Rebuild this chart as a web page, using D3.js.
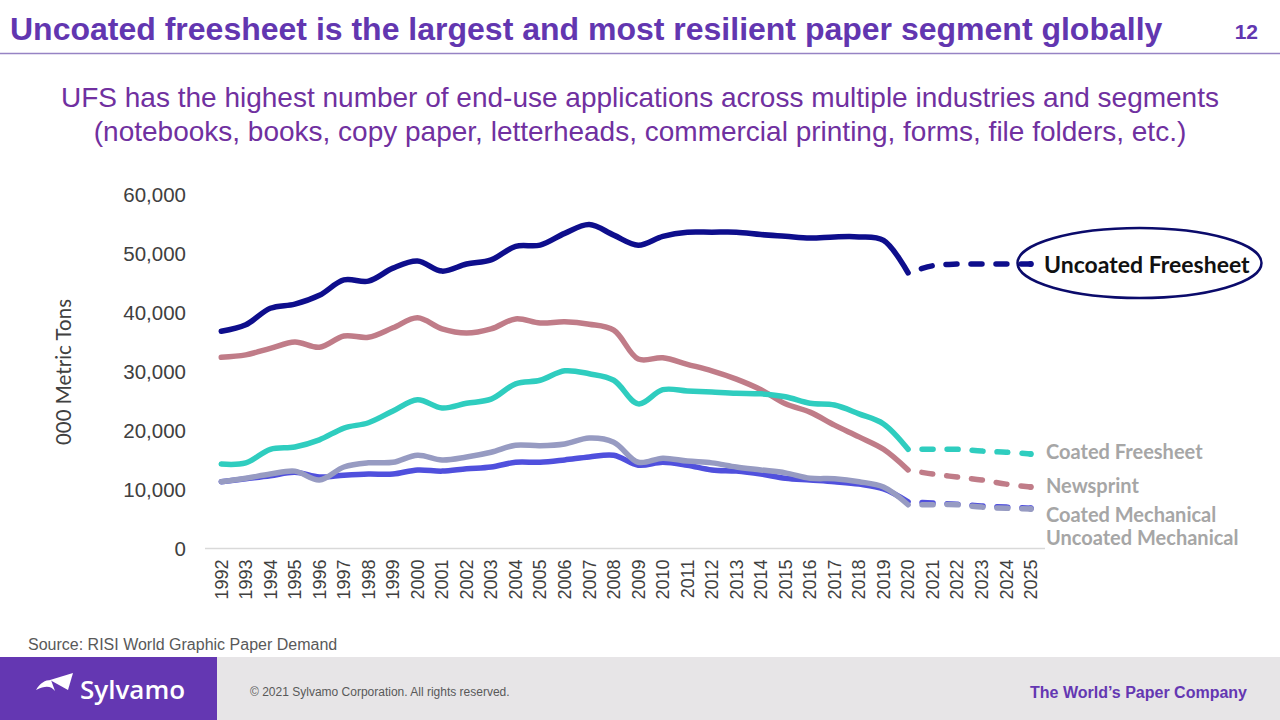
<!DOCTYPE html>
<html>
<head>
<meta charset="utf-8">
<script src="https://cdn.jsdelivr.net/npm/d3@7"></script>
<style>
  html, body { margin: 0; padding: 0; background: #ffffff; }
  svg { display: block; }
</style>
</head>
<body>
<svg id="chart" width="1280" height="720"></svg>
<script>
// ---------------- DATA ----------------
const years = ["1992","1993","1994","1995","1996","1997","1998","1999","2000","2001","2002","2003","2004","2005","2006","2007","2008","2009","2010","2011","2012","2013","2014","2015","2016","2017","2018","2019","2020","2021","2022","2023","2024","2025"];
const lastActualYear = "2020";

const uncoatedFreesheet = [36900,38000,40800,41500,43000,45600,45400,47600,48800,47100,48300,49000,51300,51500,53500,55000,53200,51500,53000,53700,53700,53700,53300,53000,52700,52900,52900,52300,46800,48000,48300,48300,48300,48300];
const newsprint         = [32500,32900,34000,35100,34200,36100,35900,37500,39200,37300,36600,37300,39000,38300,38500,38100,37100,32200,32400,31300,30200,28800,27000,24600,23200,21000,19000,16900,13400,12700,12200,11700,11000,10500];
const coatedFreesheet   = [14400,14600,16900,17300,18500,20500,21400,23400,25300,23900,24700,25400,28000,28600,30200,29700,28600,24600,27000,26800,26600,26400,26300,25800,24700,24400,22900,21200,16900,16900,16900,16600,16400,16100];
const uncoatedMechanical= [11400,11900,12400,13000,12200,12500,12700,12700,13400,13200,13600,13900,14700,14700,15100,15600,15900,14200,14700,14200,13400,13200,12700,12000,11700,11400,11000,10200, 8000, 7800, 7600, 7300, 7100, 6900];
const coatedMechanical  = [11400,12000,12700,13200,11700,13900,14600,14700,15900,15100,15600,16400,17600,17500,17800,18800,18100,14700,15400,14900,14600,13900,13400,12900,12000,11900,11400,10500, 7500, 7500, 7500, 7100, 6900, 6800];

const yTicks = [0,10000,20000,30000,40000,50000,60000];

const seriesNames  = ["Newsprint","Coated Freesheet","Uncoated Mechanical","Coated Mechanical","Uncoated Freesheet"];
const seriesValues = [newsprint, coatedFreesheet, uncoatedMechanical, coatedMechanical, uncoatedFreesheet];
const seriesColors = ["#c07c88","#2fcdbf","#5050dd","#979bc2","#0e0e8c"];

const titleText = "Uncoated freesheet is the largest and most resilient paper segment globally";
const subtitleLines = ["UFS has the highest number of end-use applications across multiple industries and segments",
                       "(notebooks, books, copy paper, letterheads, commercial printing, forms, file folders, etc.)"];
const pageNumber = "12";
const yAxisTitle = "000 Metric Tons";
const sourceText = "Source: RISI World Graphic Paper Demand";
const copyrightText = "\u00A9 2021 Sylvamo Corporation. All rights reserved.";
const taglineText = "The World\u2019s Paper Company";
const brandText = "Sylvamo";

// ---------------- DRAW ----------------
const svg = d3.select("#chart");
const purple = "#6437b2";

// Header
svg.append("text").attr("x", 10).attr("y", 40)
  .attr("font-family", "Liberation Sans, Arial, sans-serif").attr("font-weight", "bold")
  .attr("font-size", 32).attr("fill", "#6236b0").text(titleText);
svg.append("text").attr("x", 1258).attr("y", 39).attr("text-anchor", "end")
  .attr("font-family", "Liberation Sans, Arial, sans-serif").attr("font-weight", "bold")
  .attr("font-size", 21).attr("fill", "#6236b0").text(pageNumber);
svg.append("line").attr("x1", 0).attr("x2", 1280).attr("y1", 53.5).attr("y2", 53.5)
  .attr("stroke", "#9683c4").attr("stroke-width", 1.5);

svg.selectAll("text.sub").data(subtitleLines).join("text")
  .attr("class", "sub").attr("x", 640).attr("y", (d, i) => 107 + i * 34)
  .attr("text-anchor", "middle")
  .attr("font-family", "Liberation Sans, Arial, sans-serif").attr("font-size", 28)
  .attr("fill", "#7030a0").text(d => d);

// Scales
const x = d3.scaleBand().domain(years).range([209, 1043]).padding(0);
const xc = d => x(d) + x.bandwidth() / 2;
const y = d3.scaleLinear().domain([0, 60000]).range([549, 195]);

// Y axis
const yAxis = svg.append("g").attr("transform", "translate(190,0)")
  .call(d3.axisLeft(y).tickValues(yTicks).tickSize(0).tickPadding(4).tickFormat(d3.format(",")));
yAxis.select(".domain").remove();
yAxis.selectAll("text").attr("font-family", "Liberation Sans, Arial, sans-serif")
  .attr("font-size", 20.5).attr("fill", "#404040");

// X axis
const xAxis = svg.append("g").attr("transform", "translate(0,548.5)")
  .call(d3.axisBottom(x).tickSize(0));
xAxis.select(".domain").attr("stroke", "#d9d9d9").attr("stroke-width", 1.5)
  .attr("d", "M205,0H1045");
xAxis.selectAll("text")
  .attr("font-family", "Liberation Sans, Arial, sans-serif").attr("font-size", 18)
  .attr("fill", "#404040")
  .attr("transform", "rotate(-90)")
  .attr("text-anchor", "end").attr("x", -11).attr("y", 0).attr("dy", "0.35em");

// Y axis title
svg.append("text").attr("transform", "translate(71,372) rotate(-90)")
  .attr("text-anchor", "middle")
  .attr("font-family", "Lato, Open Sans, sans-serif").attr("font-size", 20.5)
  .attr("fill", "#404040").text(yAxisTitle);

// Lines
const splitIdx = years.indexOf(lastActualYear);
const lineGen = d3.line().x(d => xc(d.year)).y(d => y(d.value)).curve(d3.curveCatmullRom.alpha(0.5));
const gLines = svg.append("g");
seriesValues.forEach((vals, si) => {
  const pts = years.map((yr, i) => ({ year: yr, value: vals[i] }));
  const solid = pts.slice(0, splitIdx + 1);
  const dashed = pts.slice(splitIdx);
  gLines.append("path").attr("d", lineGen(solid)).attr("fill", "none")
    .attr("stroke", seriesColors[si]).attr("stroke-width", 5.5)
    .attr("stroke-linecap", "round").attr("stroke-linejoin", "round");
  gLines.append("path").attr("d", lineGen(dashed)).attr("fill", "none")
    .attr("stroke", seriesColors[si]).attr("stroke-width", 5.5)
    .attr("stroke-linecap", "round").attr("stroke-dasharray", "11,14").attr("stroke-dashoffset", -14);
  const last = pts[pts.length - 1];
  gLines.append("circle").attr("cx", xc(last.year)).attr("cy", y(last.value)).attr("r", 3)
    .attr("fill", seriesColors[si]);
});

// Labels
const labelFont = "Lato, Open Sans, sans-serif";
svg.append("ellipse").attr("cx", 1139.5).attr("cy", 263).attr("rx", 122).attr("ry", 35)
  .attr("fill", "none").attr("stroke", "#0b0b6b").attr("stroke-width", 2.5);
svg.append("text").attr("x", 1044).attr("y", 264).attr("dominant-baseline", "central")
  .attr("font-family", labelFont).attr("font-weight", "bold").attr("font-size", 23)
  .attr("fill", "#111111").text("Uncoated Freesheet");
const grayLabels = [["Coated Freesheet", 451], ["Newsprint", 485], ["Coated Mechanical", 514], ["Uncoated Mechanical", 537]];
svg.selectAll("text.gl").data(grayLabels).join("text").attr("class", "gl")
  .attr("x", 1046).attr("y", d => d[1]).attr("dominant-baseline", "central")
  .attr("font-family", labelFont).attr("font-weight", "bold").attr("font-size", 20)
  .attr("fill", "#a6a6a6").text(d => d[0]);

// Source
svg.append("text").attr("x", 28).attr("y", 650)
  .attr("font-family", "Liberation Sans, Arial, sans-serif").attr("font-size", 16)
  .attr("fill", "#595959").text(sourceText);

// Footer
svg.append("rect").attr("x", 0).attr("y", 657).attr("width", 1280).attr("height", 63).attr("fill", "#e7e5e7");
svg.append("rect").attr("x", 0).attr("y", 657).attr("width", 217).attr("height", 63).attr("fill", purple);
svg.append("path").attr("d", "M36,690 C40,683 45,680 51,680 L55,691 C51,686 46,685 36,690 Z").attr("fill", "#ffffff");
svg.append("path").attr("d", "M50,680 L73,673 L68,690 Z").attr("fill", "#ffffff");
svg.append("text").attr("x", 80).attr("y", 699)
  .attr("font-family", "Open Sans, Inter, sans-serif").attr("font-weight", 600).attr("font-size", 26)
  .attr("fill", "#ffffff").text(brandText);
svg.append("text").attr("x", 250).attr("y", 696)
  .attr("font-family", "Liberation Sans, Arial, sans-serif").attr("font-size", 12)
  .attr("fill", "#595959").text(copyrightText);
svg.append("text").attr("x", 1247).attr("y", 698).attr("text-anchor", "end")
  .attr("font-family", "Liberation Sans, Arial, sans-serif").attr("font-weight", "bold").attr("font-size", 16)
  .attr("fill", purple).text(taglineText);
</script>
</body>
</html>
